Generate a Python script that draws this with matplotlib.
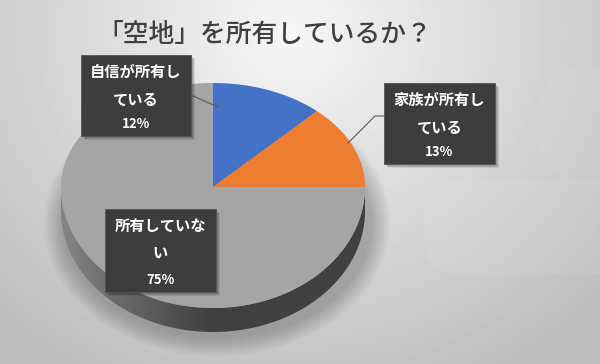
import numpy as np
import matplotlib
matplotlib.use("Agg")
import matplotlib.pyplot as plt
from matplotlib.patches import Polygon, FancyBboxPatch, Ellipse

plt.rcParams['font.family'] = ['Noto Sans CJK JP', 'DejaVu Sans']

# data
title = "「空地」を所有しているか？"
labels = ["自信が所有し\nている", "家族が所有し\nている", "所有していな\nい"]
shares = [12, 13, 75]
colors = ["#4472C4", "#ED7D31", "#A5A5A5"]

# pie geometry (pixels, slight perspective: lower half taller)
cx, cy = 213, 187
rx, ry_up, ry_lo = 152, 104, 121
depth = 24


def pt(theta, dy=0):
    # theta clockwise from top, radians
    c = np.cos(theta)
    ry = ry_up if c > 0 else ry_lo
    return cx + rx * np.sin(theta), cy - ry * c + dy


def arc(t0, t1, dy=0, n=120):
    ts = np.linspace(t0, t1, n)
    return [pt(t, dy) for t in ts]


fig = plt.figure(figsize=(6, 3.64), dpi=100)
ax = fig.add_axes([0, 0, 1, 1])
ax.set_xlim(0, 600)
ax.set_ylim(364, 0)
ax.axis('off')

# background gradient
yy, xx = np.mgrid[0:364, 0:600]
r = np.sqrt(((xx - 290) / 360.0) ** 2 + ((yy - 35) / 330.0) ** 2)
bg = np.clip(0.965 - 0.19 * r, 0.74, 1)
ax.imshow(bg, cmap='gray', vmin=0, vmax=1, extent=(0, 600, 364, 0), zorder=0)
ax.add_patch(FancyBboxPatch((425, 180), 200, 95, boxstyle="round,pad=0,rounding_size=35",
                            fc='white', ec='none', alpha=0.07, zorder=1))
ax.add_patch(Ellipse((585, 125), 100, 120, fc='white', ec='none', alpha=0.05, zorder=1))

# soft shadow under the pie
for k in range(10):
    ax.add_patch(Ellipse((cx + 4, cy + depth + 12), 2 * rx + 6 + 4 * k, ry_up + ry_lo + 6 + 4 * k,
                         fc='black', ec='none', alpha=0.025, zorder=2))

# side of the pie (front half, gray slice)
side = arc(np.pi / 2, 3 * np.pi / 2) + arc(3 * np.pi / 2, np.pi / 2, depth)
side_poly = Polygon(side, closed=True, fc='none', ec='none', zorder=3)
ax.add_patch(side_poly)
gx = np.linspace(0, 1, 600)
grad = np.clip(0.52 - 0.6 * np.clip((gx * 600 - 60) / 150.0, 0, 1) * 0.45, 0.25, 1)
grad = np.where(gx * 600 > 300, 0.25, grad)
side_img = ax.imshow(np.tile(grad, (364, 1)), cmap='gray', vmin=0, vmax=1,
                     extent=(0, 600, 364, 0), zorder=3)
side_img.set_clip_path(side_poly)

# top faces
start = 0.0
for s, col in zip(shares, colors):
    t0 = start * 2 * np.pi / 100
    t1 = (start + s) * 2 * np.pi / 100
    verts = [(cx, cy)] + arc(t0, t1)
    ax.add_patch(Polygon(verts, closed=True, fc=col, ec='none', zorder=4))
    start += s

# label boxes
boxes = [(81, 55, 110, 81), (384, 83, 111, 81), (105, 209, 111, 83)]
leaders = [[(193, 96), (218, 107)],
           [(384, 116), (375, 116), (348, 143)],
           None]
for lab, s, (bx, by, bw, bh), ld in zip(labels, shares, boxes, leaders):
    if ld is not None:
        xs, ys = zip(*ld)
        ax.plot(xs, ys, color='#595959', lw=0.8, zorder=5)
    for k in range(4):
        ax.add_patch(FancyBboxPatch((bx + 2 + k * 0.7, by + 2 + k * 0.7), bw, bh, boxstyle="square,pad=0",
                                    fc='black', ec='none', alpha=0.08, zorder=5))
    ax.add_patch(FancyBboxPatch((bx, by), bw, bh, boxstyle="square,pad=0",
                                fc='#3d3d3d', ec='#555555', lw=0.6, zorder=6))
    line1, line2 = lab.split("\n")
    ax.text(bx + bw / 2, by + 17, line1, color='white', fontsize=11, fontweight='bold',
            ha='center', va='center', zorder=7)
    ax.text(bx + bw / 2, by + 45, line2, color='white', fontsize=11, fontweight='bold',
            ha='center', va='center', zorder=7)
    ax.text(bx + bw / 2, by + bh - 12, f"{s}%", color='white', fontsize=9.5, fontweight='bold',
            ha='center', va='center', zorder=7)

ax.text(265, 34, title, color='#404040', fontsize=18.5, fontweight='medium',
        ha='center', va='center', zorder=7)

fig.savefig("out.png", dpi=100)
